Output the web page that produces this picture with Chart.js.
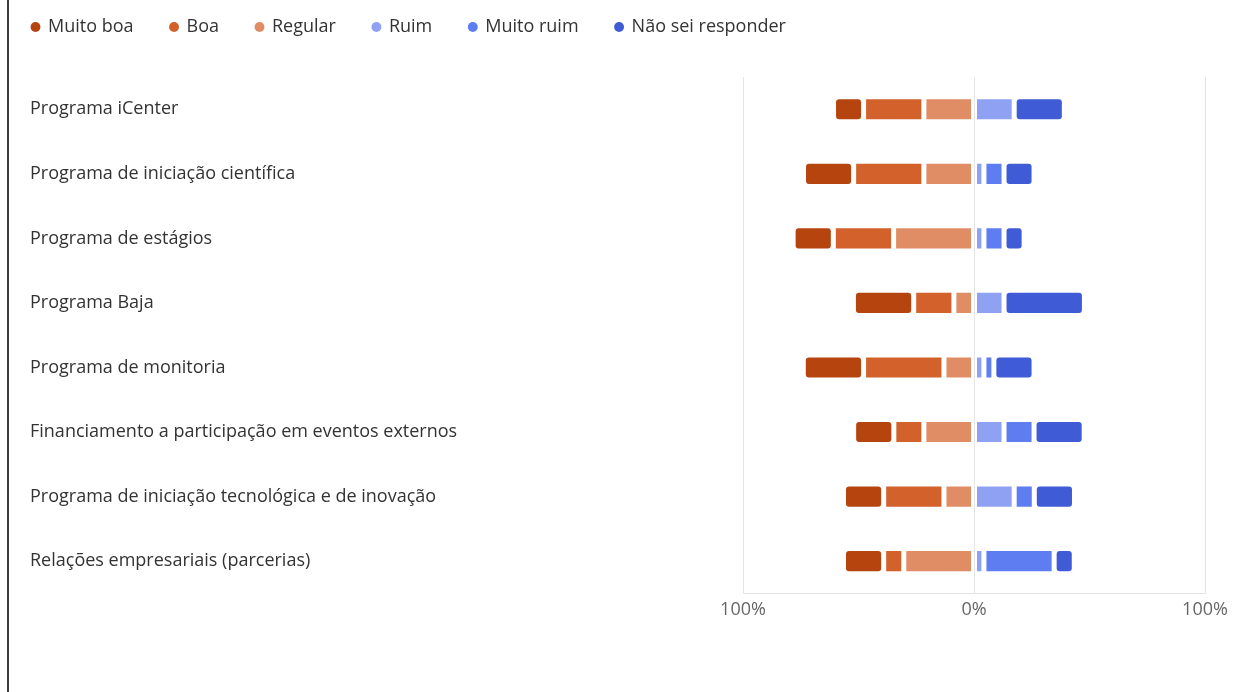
<!DOCTYPE html>
<html lang="pt-BR">
<head>
<meta charset="utf-8">
<title>Avaliação dos programas</title>
<script src="https://cdn.jsdelivr.net/npm/chart.js@4/dist/chart.umd.min.js"></script>
<style>
  html, body { margin: 0; padding: 0; background: #fff; }
  #wrap { position: relative; width: 1240px; height: 692px; }
  #frame { position: absolute; left: 7px; top: 0; width: 2px; height: 692px; background: #3c3c3c; }
</style>
</head>
<body>
<div id="wrap">
  <canvas id="chart" width="1240" height="692"></canvas>
  <div id="frame"></div>
</div>
<script>
// Categorias (eixo vertical)
const programas = [
    'Programa iCenter',
    'Programa de iniciação científica',
    'Programa de estágios',
    'Programa Baja',
    'Programa de monitoria',
    'Financiamento a participação em eventos externos',
    'Programa de iniciação tecnológica e de inovação',
    'Relações empresariais (parcerias)'
];

// Percentuais por resposta (lado esquerdo negativo)
const muitoBoa   = [-13.0, -21.7, -17.4, -26.1, -26.1, -17.4, -17.4, -17.4];
const boa        = [-26.1, -30.4, -26.1, -17.4, -34.8, -13.0, -26.1, -8.7];
const regular    = [-21.7, -21.7, -34.8, -8.7, -13.0, -21.7, -13.0, -30.4];
const ruim       = [17.4, 4.3, 4.3, 13.0, 4.3, 13.0, 17.4, 4.3];
const muitoRuim  = [0, 8.7, 8.7, 0, 4.3, 13.0, 8.7, 30.4];
const naoSei     = [21.7, 13.0, 8.7, 34.8, 17.4, 21.7, 17.4, 8.7];

// Ticks do eixo horizontal
const xTicks = [-100, 0, 100];
const legendOrder = ['Muito boa', 'Boa', 'Regular', 'Ruim', 'Muito ruim', 'Não sei responder'];

const cores = {
    muitoBoa: '#b5440e',
    boa: '#d2612b',
    regular: '#e08c65',
    ruim: '#8fa1f3',
    muitoRuim: '#5d7df0',
    naoSei: '#3f5bd5'
};

const fontFamily = '"Open Sans", "Noto Sans", sans-serif';

function serie(label, data, color) {
    return {
        label: label,
        data: data,
        backgroundColor: color,
        borderWidth: 0,
        borderRadius: 3,
        borderSkipped: false,
        inflateAmount: (c) => (c.raw ? -2.5 : 0),
        barPercentage: 0.39,
        categoryPercentage: 1
    };
}

// Espaço extra abaixo da legenda
const legendSpace = {
    id: 'legendSpace',
    beforeInit(chart) {
        const fitOrig = chart.legend.fit;
        chart.legend.fit = function () {
            fitOrig.call(this);
            this.height += 31;
        };
    }
};

// Ajuste da posição dos rótulos do eixo y
const yLabelShift = {
    id: 'yLabelShift',
    afterLayout(chart) {
        const y = chart.scales.y;
        y.left = 30;
        y.width = y.right - y.left;
    }
};

const ctx = document.getElementById('chart').getContext('2d');
new Chart(ctx, {
    type: 'bar',
    data: {
        labels: programas,
        // ordem de empilhamento: mais perto do zero primeiro
        datasets: [
            serie('Regular', regular, cores.regular),
            serie('Boa', boa, cores.boa),
            serie('Muito boa', muitoBoa, cores.muitoBoa),
            serie('Ruim', ruim, cores.ruim),
            serie('Muito ruim', muitoRuim, cores.muitoRuim),
            serie('Não sei responder', naoSei, cores.naoSei)
        ]
    },
    plugins: [legendSpace, yLabelShift],
    options: {
        indexAxis: 'y',
        responsive: false,
        animation: false,
        layout: {
            padding: { left: -5, right: 35, top: -19, bottom: 65 }
        },
        plugins: {
            tooltip: { enabled: false },
            legend: {
                position: 'top',
                align: 'start',
                labels: {
                    usePointStyle: true,
                    pointStyle: 'circle',
                    boxWidth: 7,
                    boxHeight: 7,
                    padding: 37,
                    color: '#333',
                    font: { family: fontFamily, size: 18 },
                    sort: (a, b) => legendOrder.indexOf(a.text) - legendOrder.indexOf(b.text)
                }
            }
        },
        scales: {
            x: {
                stacked: true,
                min: -100,
                max: 100,
                afterBuildTicks(scale) {
                    scale.ticks = xTicks.map(v => ({ value: v }));
                },
                ticks: {
                    color: '#666',
                    padding: 6,
                    font: { family: fontFamily, size: 18 },
                    callback: (v) => Math.abs(v) + '%'
                },
                grid: { color: '#e4e4e4', lineWidth: 1, drawTicks: false },
                border: { color: '#e4e4e4' }
            },
            y: {
                stacked: true,
                afterFit(scale) {
                    scale.width = 748;
                },
                ticks: {
                    crossAlign: 'far',
                    color: '#333',
                    font: { family: fontFamily, size: 18 }
                },
                grid: { display: false },
                border: { display: false }
            }
        }
    }
});
</script>
</body>
</html>
